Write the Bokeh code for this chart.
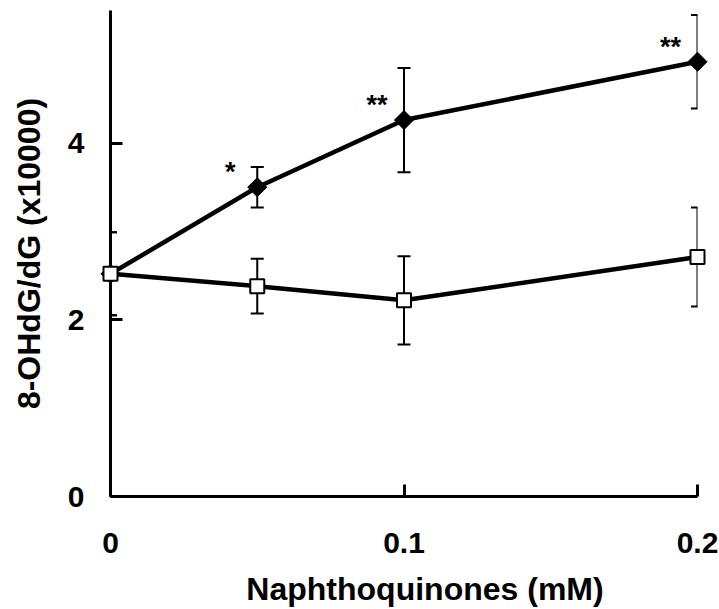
from bokeh.plotting import figure
from bokeh.models import FixedTicker, Range1d
from bokeh.core.properties import value
from bokeh.embed import file_html
from bokeh.resources import INLINE

# Data
conc = [0, 0.05, 0.1, 0.2]
nq_mean = [2.52, 3.50, 4.26, 4.92]
nq_err = [0.47, 0.23, 0.59, 0.53]
ctrl_mean = [2.52, 2.38, 2.22, 2.71]
ctrl_err = [0.47, 0.31, 0.50, 0.56]
sig = ["", "*", "**", "**"]
x_ticks = [0, 0.1, 0.2]
x_tick_labels = ["0", "0.1", "0.2"]
y_ticks = [0, 2, 4]
x_title = "Naphthoquinones (mM)"
y_title = "8-OHdG/dG (x10000)"

FONT = "Liberation Sans"

p = figure(width=719, height=609, x_range=Range1d(0, 0.2), y_range=Range1d(0, 5.5),
           output_backend="svg", toolbar_location=None,
           min_border_left=110, min_border_right=22, min_border_top=10, min_border_bottom=113)
p.grid.visible = False
p.outline_line_color = None

for ax in (p.xaxis[0], p.yaxis[0]):
    ax.axis_line_width = 3
    ax.axis_line_color = "black"
    ax.major_tick_in = 12
    ax.major_tick_out = 0
    ax.major_tick_line_width = 3
    ax.major_tick_line_color = "black"
    ax.minor_tick_line_color = None
    ax.major_label_text_font = FONT
    ax.major_label_text_font_style = "bold"
    ax.major_label_text_font_size = "30px"
    ax.major_label_text_color = "black"
    ax.axis_label_text_font = FONT
    ax.axis_label_text_font_style = "bold"
    ax.axis_label_text_font_size = "32px"
    ax.axis_label_text_color = "black"

p.xaxis.ticker = FixedTicker(ticks=x_ticks)
p.xaxis.major_label_overrides = {t: l for t, l in zip(x_ticks, x_tick_labels)}
p.yaxis.ticker = FixedTicker(ticks=y_ticks)
p.yaxis.axis_label = y_title
p.xaxis.major_label_standoff = 36
p.yaxis.major_label_standoff = 26
p.yaxis.axis_label_standoff = 18

# x axis title (slightly right of centre, as in the reference)
p.text(x=[x_ticks[1]], y=[y_ticks[0]], text=[x_title], x_offset=21, y_offset=92,
       text_font=value(FONT), text_font_style="bold", text_font_size="32px",
       text_align="center", text_baseline="middle", text_color="black",
       level="overlay")

# error bars
for mean, err in ((nq_mean, nq_err), (ctrl_mean, ctrl_err)):
    lo = [m - e for m, e in zip(mean, err)]
    hi = [m + e for m, e in zip(mean, err)]
    p.segment(x0=conc, y0=lo, x1=conc, y1=hi, line_width=2, line_color="black")
    p.scatter(x=conc + conc, y=lo + hi, marker="dash", size=13, line_width=2,
              line_color="black")

# lines
p.line(conc, nq_mean, line_width=4.5, line_color="black", line_join="round")
p.line(conc, ctrl_mean, line_width=4.5, line_color="black", line_join="round")

# markers
p.scatter(conc, nq_mean, marker="square", angle=0.7854, size=13.5,
          fill_color="black", line_color="black", level="overlay")
p.scatter(conc, ctrl_mean, marker="square", size=14, fill_color="white",
          line_color="black", line_width=2, level="overlay")

# significance marks
p.text(x=conc[1:], y=nq_mean[1:], text=sig[1:], x_offset=-27, y_offset=-15,
       text_font=value(FONT), text_font_style="bold", text_font_size="27px",
       text_align="center", text_baseline="middle", text_color="black")

open("out.html", "w").write(file_html(p, INLINE))
